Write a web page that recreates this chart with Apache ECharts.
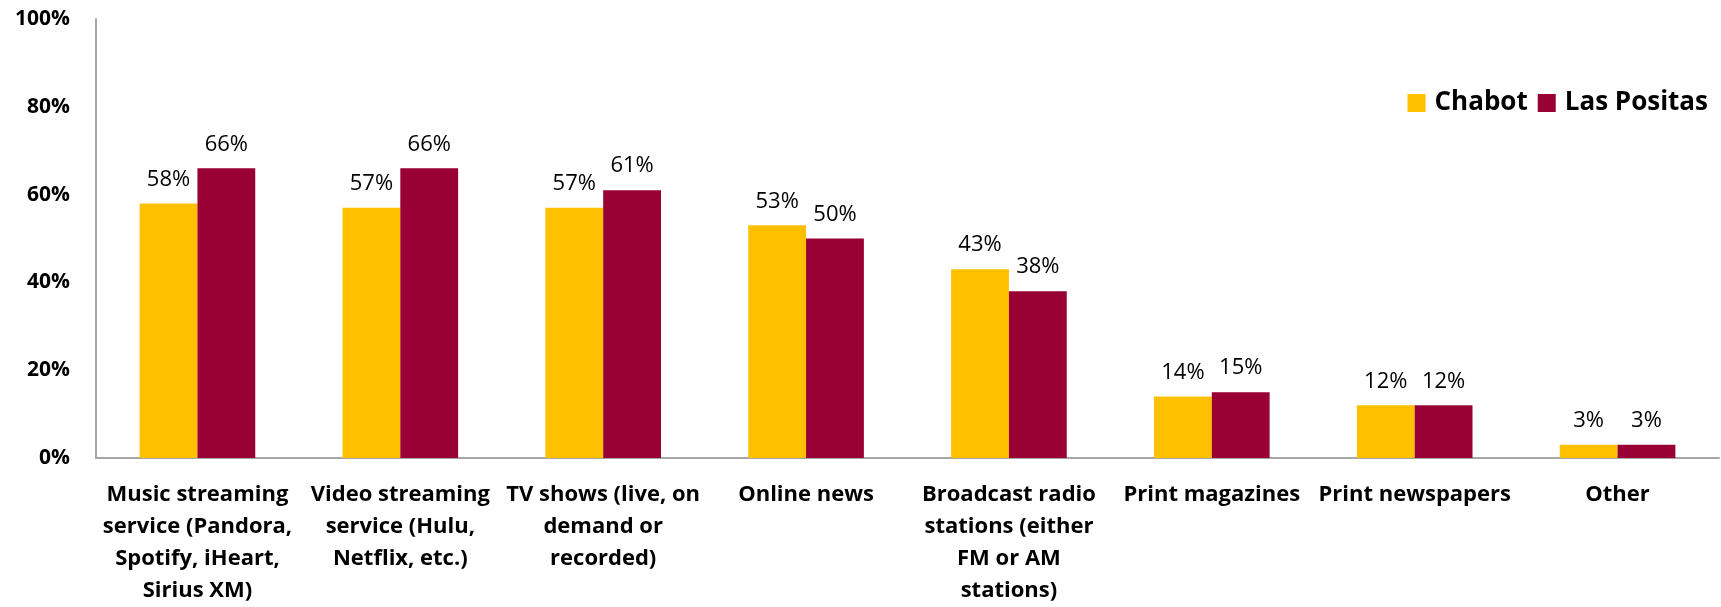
<!DOCTYPE html>
<html>
<head>
<meta charset="utf-8">
<script src="https://cdn.jsdelivr.net/npm/echarts@6/dist/echarts.min.js"></script>
<style>
  html, body { margin: 0; padding: 0; background: #fff; }
  #chart { width: 1721px; height: 607px; }
</style>
</head>
<body>
<div id="chart"></div>
<script>
const categories = [
    'Music streaming\nservice (Pandora,\nSpotify, iHeart,\nSirius XM)',
    'Video streaming\nservice (Hulu,\nNetflix, etc.)',
    'TV shows (live, on\ndemand or\nrecorded)',
    'Online news',
    'Broadcast radio\nstations (either\nFM or AM\nstations)',
    'Print magazines',
    'Print newspapers',
    'Other'
]
const chabot = [58, 57, 57, 53, 43, 14, 12, 3]
const lasPositas = [66, 66, 61, 50, 38, 15, 12, 3]

const font = '"Open Sans", "Noto Sans", sans-serif'

const chart = echarts.init(document.getElementById('chart'))

const barLabel = {
    show: true,
    position: 'top',
    distance: 13,
    formatter: p => p.value + '%',
    color: '#000',
    fontFamily: font,
    fontSize: 22
}

chart.setOption({
    animation: false,
    textStyle: {fontFamily: font},
    legend: {
        right: 8,
        top: 85,
        itemWidth: 18,
        itemHeight: 18,
        itemGap: 10,
        icon: 'rect',
        textStyle: {
            fontFamily: font,
            fontSize: 26,
            fontWeight: 'bold',
            color: '#000',
            padding: [0, 0, 0, 4]
        },
        data: ['Chabot', 'Las Positas']
    },
    grid: {
        left: 96,
        right: 2,
        top: 19,
        bottom: 144,
        containLabel: false
    },
    xAxis: {
        type: 'category',
        data: categories,
        axisLine: {lineStyle: {color: '#a6a6a6', width: 2}},
        axisTick: {show: false},
        axisLabel: {
            interval: 0,
            margin: 21,
            color: '#000',
            fontFamily: font,
            fontSize: 22,
            fontWeight: 'bold',
            lineHeight: 32
        }
    },
    yAxis: {
        type: 'value',
        min: 0,
        max: 100,
        interval: 20,
        splitLine: {show: false},
        axisTick: {show: false},
        axisLine: {show: true, lineStyle: {color: '#a6a6a6', width: 2}},
        axisLabel: {
            formatter: '{value}%',
            margin: 26,
            color: '#000',
            fontFamily: font,
            fontSize: 21,
            fontWeight: 'bold'
        }
    },
    series: [
        {
            name: 'Chabot',
            type: 'bar',
            data: chabot,
            barWidth: '28.5%',
            barGap: '0%',
            itemStyle: {color: '#FFC000'},
            label: barLabel
        },
        {
            name: 'Las Positas',
            type: 'bar',
            data: lasPositas,
            barWidth: '28.5%',
            barGap: '0%',
            itemStyle: {color: '#990033'},
            label: barLabel
        }
    ]
})
</script>
</body>
</html>
